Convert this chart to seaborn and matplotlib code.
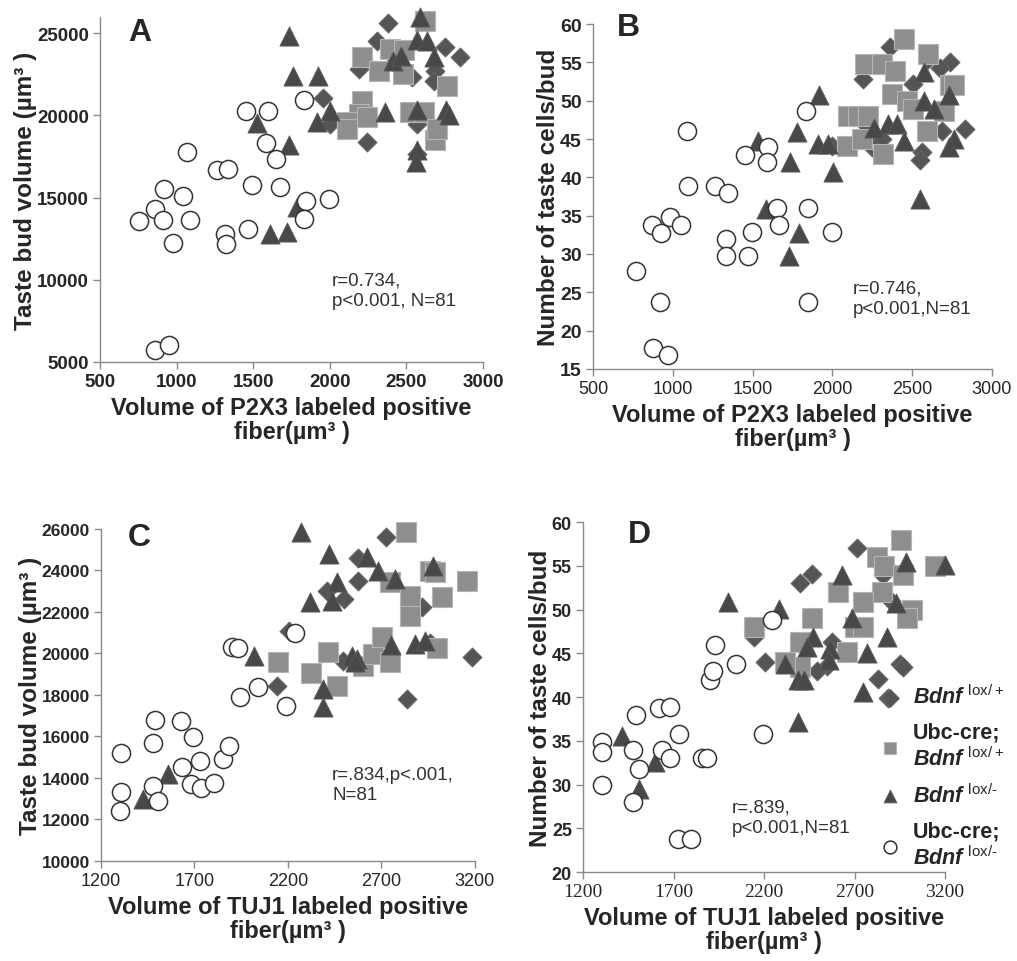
import numpy as np
import pandas as pd
import seaborn as sns
import matplotlib.pyplot as plt

sns.set_style('white')
plt.rcParams['font.family'] = ['Liberation Sans', 'DejaVu Sans']
plt.rcParams['mathtext.fontset'] = 'custom'
plt.rcParams['mathtext.it'] = 'Liberation Sans:italic:bold'
plt.rcParams['mathtext.rm'] = 'Liberation Sans'

# Panel A: P2X3 volume vs taste bud volume
a_circ_x = [757, 859, 920, 914, 975, 1040, 1088, 1071, 859, 951, 1262, 1334, 1317, 1321, 1469,
            1454, 1600, 1585, 1495, 1650, 1672, 1833, 1846, 1833, 1992]
a_circ_y = [13550, 14280, 15500, 13610, 12240, 15090, 13610, 17800, 5710, 6020, 16650, 16750, 12800,
            12150, 13110, 20240, 20240, 18310, 15780, 17320, 15640, 20950, 14770, 13720, 14930]
a_tri_x = [1737, 1759, 1920, 1737, 1611, 1724, 1524, 1916, 2003, 1787, 2362, 2410, 2464, 2568, 2591,
           2634, 2682, 2760, 2775, 2568, 2564, 2568]
a_tri_y = [24820, 22390, 22390, 18170, 12800, 12900, 19550, 19590, 20240, 14430, 20200, 23340, 23640,
           24570, 25990, 24550, 23540, 20300, 20000, 17870, 17160, 20300]
a_sq_x = [2624, 2210, 2395, 2482, 2319, 2478, 2765, 2210, 2188, 2112, 2242, 2112, 2525, 2612, 2689, 2700]
a_sq_y = [25770, 23540, 24030, 23950, 22730, 22530, 21780, 20900, 20100, 19590, 19890, 19190, 20200,
          20200, 18480, 19200]
a_dia_x = [1955, 2003, 2377, 2307, 2188, 2536, 2754, 2848, 2689, 2678, 2242, 2568, 2568, 2420]
a_dia_y = [21050, 19490, 25630, 24510, 22830, 22330, 24150, 23540, 22730, 22120, 18370, 19490, 17670, 23200]

# Panel B: P2X3 volume vs taste cells/bud
b_circ_x = [768, 872, 929, 981, 1054, 1086, 1096, 918, 877, 967, 1264, 1347, 1333, 1333, 1452, 1494,
            1473, 1598, 1588, 1651, 1668, 1845, 1835, 1849, 1996]
b_circ_y = [27.8, 33.8, 32.8, 34.8, 33.8, 46.1, 38.9, 23.8, 17.8, 16.8, 38.9, 38.0, 31.9, 29.8, 42.9,
            32.9, 29.8, 44.0, 42.0, 36.0, 33.8, 36.0, 48.7, 23.8, 32.9]
b_tri_x = [1536, 1585, 1776, 1733, 1789, 1730, 1918, 1909, 1975, 2002, 2550, 2571, 2728, 2575, 2634,
           2351, 2404, 2446, 2759, 2728, 2260]
b_tri_y = [44.8, 35.9, 45.9, 42.0, 32.8, 29.8, 50.7, 44.3, 44.3, 40.7, 37.2, 53.7, 50.7, 50.0, 48.9,
           47.0, 47.0, 44.8, 45.0, 43.9, 46.5]
b_sq_x = [2090, 2184, 2100, 2160, 2226, 2205, 2310, 2393, 2446, 2602, 2738, 2760, 2372, 2466, 2508,
          2697, 2592, 2314]
b_sq_y = [44.1, 45.0, 48.0, 48.0, 48.0, 54.8, 54.8, 53.9, 58.0, 56.1, 52.0, 52.0, 50.9, 50.0, 48.9,
          48.7, 46.1, 43.0]
b_dia_x = [1996, 2215, 2190, 2362, 2738, 2676, 2508, 2310, 2686, 2833, 2561, 2550, 2250, 2600]
b_dia_y = [44.1, 46.7, 52.8, 57.0, 55.0, 54.3, 52.2, 45.0, 46.1, 46.3, 43.3, 42.2, 44.0, 55.5]

# Panel C: TUJ1 volume vs taste bud volume
c_circ_x = [1307, 1307, 1300, 1490, 1478, 1478, 1505, 1629, 1692, 1633, 1679, 1732, 1737, 1802, 1855,
            1882, 1900, 1935, 1941, 2042, 2190, 2238]
c_circ_y = [15226, 13300, 12410, 16800, 15680, 13620, 12900, 16750, 15950, 14540, 13700, 14820, 13540,
            13750, 14900, 15520, 20290, 20240, 17880, 18360, 17450, 20980]
c_tri_x = [2269, 2420, 2621, 2684, 2773, 2461, 2434, 2318, 2019, 2541, 2568, 2559, 2749, 2879, 2933,
           2390, 2390, 1426, 1561, 2975]
c_tri_y = [25840, 24800, 24630, 23990, 23590, 23430, 22540, 22460, 19860, 19890, 19730, 19570, 20400,
           20450, 20610, 18280, 17400, 13000, 14200, 24200]
c_sq_x = [2830, 2746, 2960, 2986, 3155, 3022, 2853, 2853, 2149, 2416, 2603, 2657, 2701, 2746, 2995,
          2322, 2461]
c_sq_y = [25840, 23430, 23990, 23910, 23510, 22700, 22780, 21820, 19570, 20080, 19410, 19970, 20770,
          19570, 20240, 19050, 18440]
c_dia_x = [2723, 2577, 2577, 2408, 2502, 2915, 2203, 2497, 3182, 2144, 2839, 2960]
c_dia_y = [25600, 24590, 23510, 23020, 22620, 22220, 21100, 19650, 19810, 18410, 17800, 20500]

# Panel D: TUJ1 volume vs taste cells/bud
d_circ_x = [1305, 1305, 1305, 1494, 1476, 1507, 1476, 1618, 1678, 1728, 1636, 1682, 1724, 1798, 1857,
            1884, 1903, 1918, 1930, 2045, 2243, 2194]
d_circ_y = [34.9, 33.7, 29.9, 37.9, 33.9, 31.8, 28.0, 38.7, 38.9, 35.8, 33.9, 33.0, 23.8, 23.8, 33.0,
            33.0, 41.9, 43.0, 45.9, 43.8, 48.8, 35.8]
d_tri_x = [1999, 2280, 2630, 2985, 3200, 2930, 2685, 2878, 2768, 2744, 2470, 2436, 2317, 2390, 2418,
           2565, 2556, 2385, 1415, 1599, 1507]
d_tri_y = [50.9, 50.1, 53.9, 55.4, 55.1, 50.7, 49.0, 46.9, 45.0, 40.6, 46.9, 45.7, 43.8, 41.9, 41.9,
           45.5, 44.2, 37.1, 35.6, 32.6, 29.5]
d_sq_x = [2142, 2608, 2955, 2823, 2860, 3145, 2970, 2850, 3016, 2988, 2749, 2703, 2749, 2464, 2657,
          2400, 2400, 2317]
d_sq_y = [48.0, 52.0, 57.9, 56.0, 55.0, 55.0, 53.9, 52.0, 49.9, 49.0, 50.9, 48.0, 48.0, 49.0, 45.1,
          46.3, 43.4, 44.0]
d_dia_x = [2142, 2396, 2464, 2716, 2856, 2952, 2966, 2832, 2887, 2206, 2575, 2547, 2492, 2900]
d_dia_y = [46.9, 53.0, 54.1, 57.0, 53.9, 43.8, 43.4, 42.1, 39.9, 44.0, 46.3, 43.6, 43.0, 51.0]

HY = '\u2010'  # plain hyphen so mathtext does not turn it into a minus sign
group_labels = [r'$\mathit{Bdnf}^{\ \mathrm{lox/+}}$',
                'Ubc-cre;\n' + r'$\mathit{Bdnf}^{\ \mathrm{lox/+}}$',
                r'$\mathit{Bdnf}^{\ \mathrm{lox/' + HY + '}}$',
                'Ubc-cre;\n' + r'$\mathit{Bdnf}^{\ \mathrm{lox/' + HY + '}}$']

# marker styles per group: diamond, square, triangle, circle
styles = [dict(marker='D', s=95, color='#555555', edgecolor='#6a6a6a', linewidth=0.6),
          dict(marker='s', s=190, color='#8e8e8e', edgecolor='#b5b5b5', linewidth=0.8),
          dict(marker='^', s=190, color='#484848', edgecolor='#5a5a5a', linewidth=0.6),
          dict(marker='o', s=170, color='white', edgecolor='#333333', linewidth=1.1)]

fig = plt.figure(figsize=(10.17, 9.62), dpi=100)


def panel(rect, xs, ys, xlim, xticks, ylim, yticks, letter, letter_xy, xlabel, ylabel, note,
          note_xy, xtick_style='bold', xtick_size=13.5, ytick_size=13, legend=False):
    ax = fig.add_axes(rect)
    for i, (x, y) in enumerate(zip(xs, ys)):
        df = pd.DataFrame({'x': x, 'y': y})
        sns.scatterplot(data=df, x='x', y='y', ax=ax, label=group_labels[i], zorder=3 + i,
                        clip_on=False, **styles[i])
    ax.set_xlim(*xlim)
    ax.set_ylim(*ylim)
    ax.set_xticks(xticks)
    ax.set_yticks(yticks)
    for s in ['top', 'right']:
        ax.spines[s].set_visible(False)
    for s in ['left', 'bottom']:
        ax.spines[s].set_color('#8a8a8a')
        ax.spines[s].set_linewidth(1.0)
    ax.tick_params(axis='both', direction='out', length=5, width=1, color='#8a8a8a',
                   left=True, bottom=True, pad=3)
    for t in ax.get_yticklabels():
        t.set_fontweight('bold')
        t.set_fontsize(ytick_size)
    for t in ax.get_xticklabels():
        t.set_fontsize(xtick_size)
        if xtick_style == 'serif':
            t.set_family('Liberation Serif')
        elif xtick_style == 'bold':
            t.set_fontweight('bold')
    ax.set_xlabel(xlabel, fontsize=17, fontweight='bold', labelpad=4, linespacing=1.1)
    ax.set_ylabel(ylabel, fontsize=17.5, fontweight='bold', labelpad=0)
    ax.text(letter_xy[0], letter_xy[1], letter, transform=ax.transAxes, fontsize=23,
            fontweight='bold', va='top', ha='left')
    ax.text(note_xy[0], note_xy[1], note, transform=ax.transAxes, fontsize=13.5,
            color='#333333', va='top', ha='left', linespacing=1.25)
    if legend:
        h, l = ax.get_legend_handles_labels()
        leg = ax.legend(h, l, loc='upper left', bbox_to_anchor=(0.79, 0.56), frameon=False,
                        prop={'weight': 'bold', 'size': 15.5}, handletextpad=0.55,
                        labelspacing=0.62, handlelength=1.1, borderaxespad=0)
        for hd in leg.legend_handles:
            hd.set_sizes([85])
    else:
        ax.get_legend().remove()
    return ax


xlab_p2x3 = 'Volume of P2X3 labeled positive\nfiber(µm³ )'
xlab_tuj1 = 'Volume of TUJ1 labeled positive\nfiber(µm³ )'

panel([0.0983, 0.6227, 0.3766, 0.3588],
      [a_dia_x, a_sq_x, a_tri_x, a_circ_x], [a_dia_y, a_sq_y, a_tri_y, a_circ_y],
      (500, 3000), np.arange(500, 3001, 500), (5000, 26000), np.arange(5000, 25001, 5000),
      'A', (0.073, 1.0), xlab_p2x3, 'Taste bud volume (µm³ )', 'r=0.734,\np<0.001, N=81',
      (0.606, 0.262), ytick_size=13.5)

panel([0.5831, 0.6154, 0.3923, 0.3586],
      [b_dia_x, b_sq_x, b_tri_x, b_circ_x], [b_dia_y, b_sq_y, b_tri_y, b_circ_y],
      (500, 3000), np.arange(500, 3001, 500), (15, 60), np.arange(15, 61, 5),
      'B', (0.06, 1.035), xlab_p2x3, 'Number of taste cells/bud', 'r=0.746,\np<0.001,N=81',
      (0.652, 0.258), xtick_style='normal', xtick_size=13, ytick_size=14)

panel([0.0993, 0.104, 0.3677, 0.3451],
      [c_dia_x, c_sq_x, c_tri_x, c_circ_x], [c_dia_y, c_sq_y, c_tri_y, c_circ_y],
      (1200, 3200), np.arange(1200, 3201, 500), (10000, 26000), np.arange(10000, 26001, 2000),
      'C', (0.072, 1.02), xlab_tuj1, 'Taste bud volume (µm³ )', 'r=.834,p<.001,\nN=81',
      (0.618, 0.286), xtick_style='normal', xtick_size=13, ytick_size=12.5)

panel([0.5733, 0.0925, 0.356, 0.3638],
      [d_dia_x, d_sq_x, d_tri_x, d_circ_x], [d_dia_y, d_sq_y, d_tri_y, d_circ_y],
      (1200, 3200), np.arange(1200, 3201, 500), (20, 60), np.arange(20, 61, 5),
      'D', (0.124, 1.01), xlab_tuj1, 'Number of taste cells/bud', 'r=.839,\np<0.001,N=81',
      (0.41, 0.209), xtick_style='serif', xtick_size=14, ytick_size=13, legend=True)

fig.savefig('out.png', dpi=100)
